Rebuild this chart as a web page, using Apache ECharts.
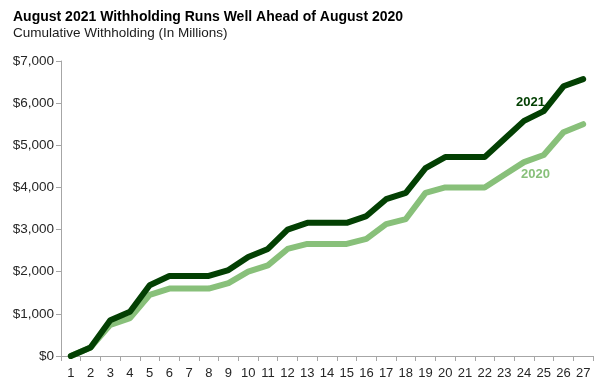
<!DOCTYPE html>
<html><head><meta charset="utf-8">
<script src="https://cdn.jsdelivr.net/npm/echarts@6/dist/echarts.min.js"></script>
<style>html,body{margin:0;padding:0;background:#fff}#c{width:602px;height:388px}</style>
</head><body><div id="c"></div>
<script>
const categories = ['1','2','3','4','5','6','7','8','9','10','11','12','13','14','15','16','17','18','19','20','21','22','23','24','25','26','27'];
const values2021 = [0,200,850,1050,1680,1900,1900,1900,2040,2350,2540,3000,3160,3160,3160,3320,3720,3870,4460,4720,4720,4720,5150,5580,5810,6400,6570];
const values2020 = [0,200,740,900,1450,1600,1600,1600,1730,2000,2150,2540,2660,2660,2660,2780,3130,3250,3870,4000,4000,4000,4300,4600,4770,5310,5500];
const yTicks = {min:0, max:7000, interval:1000};
const titleText = 'August 2021 Withholding Runs Well Ahead of August 2020';
const subtitleText = 'Cumulative Withholding (In Millions)';

const FONT = '"Liberation Sans", Arial, sans-serif';
const chart = echarts.init(document.getElementById('c'), null, {renderer:'canvas'});
chart.setOption({
  animation:false,
  backgroundColor:'#fff',
  title:{
    text:titleText, subtext:subtitleText, left:8, top:5, itemGap:2,
    textStyle:{fontFamily:FONT, fontSize:14, fontWeight:'bold', color:'#000'},
    subtextStyle:{fontFamily:FONT, fontSize:13.5, color:'#1a1a1a'}
  },
  grid:{left:61, right:9, top:61, bottom:32},
  xAxis:{
    type:'category', data:categories, boundaryGap:true,
    axisLine:{lineStyle:{color:'#A6A6A6'}},
    axisTick:{show:true, alignWithLabel:false, length:5, lineStyle:{color:'#A6A6A6'}},
    axisLabel:{fontFamily:FONT, fontSize:13, color:'#262626', margin:11, interval:0}
  },
  yAxis:{
    type:'value', min:yTicks.min, max:yTicks.max, interval:yTicks.interval,
    axisLine:{show:true, lineStyle:{color:'#A6A6A6'}},
    axisTick:{show:true, length:5, lineStyle:{color:'#A6A6A6'}},
    splitLine:{show:false},
    axisLabel:{fontFamily:FONT, fontSize:13.5, color:'#262626', margin:7,
      formatter:v=>'$'+v.toLocaleString('en-US')}
  },
  series:[
    {name:'2020', type:'line', data:values2020, symbol:'none',
     lineStyle:{color:'#88C07A', width:6, cap:'round', join:'round'}},
    {name:'2021', type:'line', data:values2021, symbol:'none',
     lineStyle:{color:'#034003', width:6, cap:'round', join:'round'}}
  ],
  graphic:[
    {type:'text', left:516, top:96, style:{text:'2021', fontFamily:FONT, fontSize:13, fontWeight:'bold', fill:'#034003'}},
    {type:'text', left:521, top:168, style:{text:'2020', fontFamily:FONT, fontSize:13, fontWeight:'bold', fill:'#88C07A'}}
  ]
});
</script></body></html>
